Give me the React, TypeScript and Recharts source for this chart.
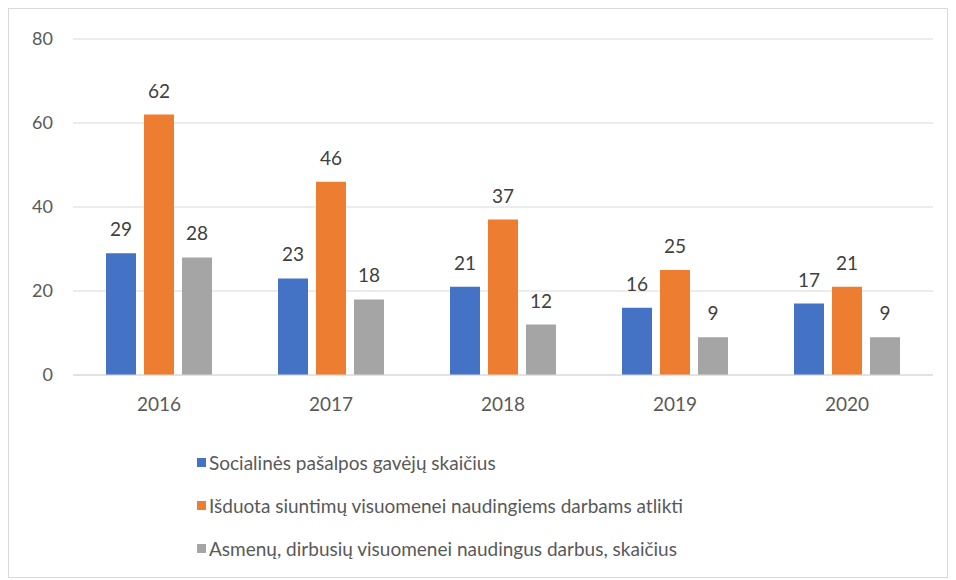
import { BarChart, Bar, XAxis, YAxis, CartesianGrid, Legend, LabelList } from "recharts"

const YEARS = ["2016", "2017", "2018", "2019", "2020"]
const RECIPIENTS = [29, 23, 21, 16, 17]
const REFERRALS = [62, 46, 37, 25, 21]
const WORKERS = [28, 18, 12, 9, 9]
const Y_TICKS = [0, 20, 40, 60, 80]

const SERIES = [
  { key: "recipients", name: "Socialinės pašalpos gavėjų skaičius", color: "#4472C4" },
  { key: "referrals", name: "Išduota siuntimų visuomenei naudingiems darbams atlikti", color: "#ED7D31" },
  { key: "workers", name: "Asmenų, dirbusių visuomenei naudingus darbus, skaičius", color: "#A5A5A5" },
]

const data = YEARS.map((year, i) => ({
  year,
  recipients: RECIPIENTS[i],
  referrals: REFERRALS[i],
  workers: WORKERS[i],
}))

const FONT = "Lato, 'Noto Sans', sans-serif"

function LegendList() {
  return (
    <div style={{ paddingTop: 4, fontFamily: FONT, fontSize: 19, color: "#595959" }}>
      {SERIES.map((s) => (
        <div key={s.key} style={{ height: 43, lineHeight: "43px", display: "flex", alignItems: "center", whiteSpace: "nowrap" }}>
          <span style={{ display: "inline-block", width: 9, height: 9, background: s.color, marginRight: 3 }} />
          {s.name}
        </div>
      ))}
    </div>
  )
}

export default function App() {
  return (
    <div style={{ width: 938, height: 568, border: "1px solid #D9D9D9", background: "#fff" }}>
      <BarChart
        width={938}
        height={568}
        data={data}
        margin={{ top: 30, right: 14, left: 0, bottom: 10 }}
        barSize={30}
        barGap={8}
      >
        <CartesianGrid vertical={false} stroke="#D9D9D9" />
        <XAxis
          dataKey="year"
          height={62}
          tickLine={false}
          axisLine={{ stroke: "#D9D9D9" }}
          tickSize={0}
          tickMargin={23}
          tick={{ fontSize: 19, fill: "#595959", fontFamily: FONT }}
        />
        <YAxis
          width={64}
          domain={[0, 80]}
          ticks={Y_TICKS}
          tickLine={false}
          axisLine={false}
          tickSize={0}
          tickMargin={20}
          tick={{ fontSize: 18, fill: "#595959", fontFamily: FONT }}
        />
        <Legend
          verticalAlign="bottom"
          align="left"
          height={130}
          wrapperStyle={{ left: 188 }}
          content={() => <LegendList />}
        />
        {SERIES.map((s) => (
          <Bar key={s.key} dataKey={s.key} name={s.name} fill={s.color} isAnimationActive={false}>
            <LabelList
              dataKey={s.key}
              position="top"
              offset={17}
              style={{ fontSize: 19, fill: "#404040", fontFamily: FONT }}
            />
          </Bar>
        ))}
      </BarChart>
    </div>
  )
}
